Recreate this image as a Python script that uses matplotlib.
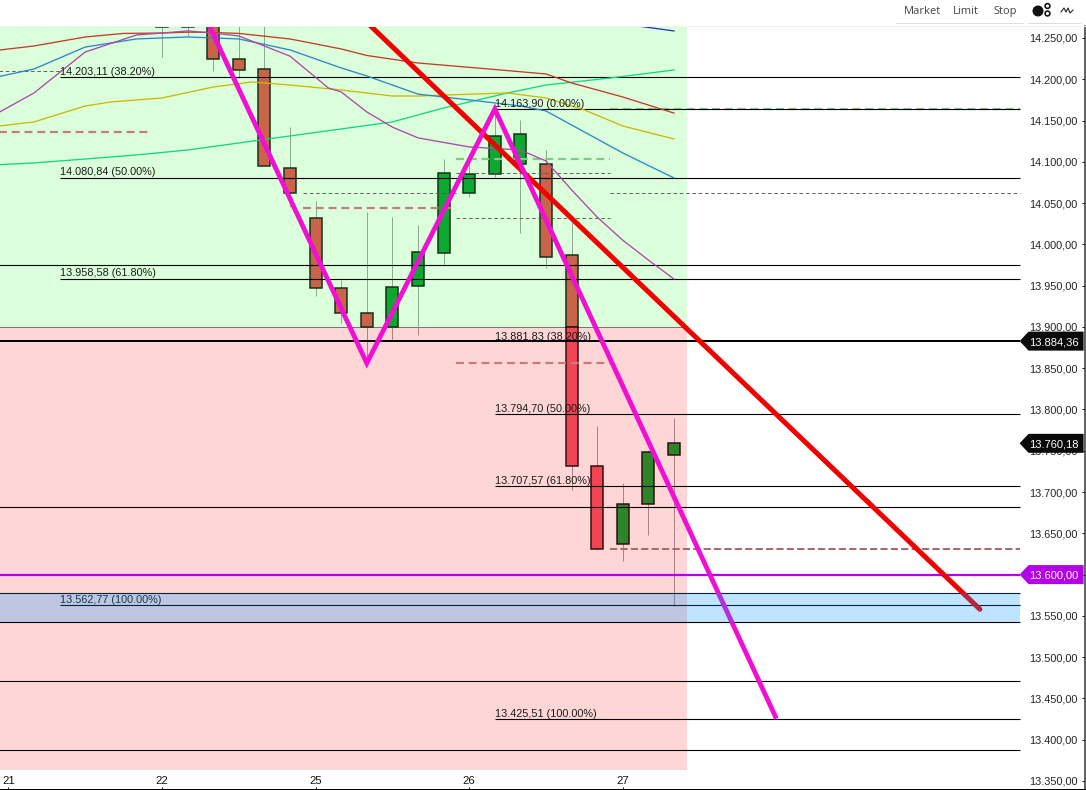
import matplotlib
matplotlib.use("Agg")
import matplotlib.pyplot as plt
from matplotlib.patches import Rectangle, Polygon, Circle
from matplotlib.lines import Line2D
from matplotlib.transforms import IdentityTransform

plt.rcParams['font.family'] = ['Liberation Sans', 'DejaVu Sans']

# ---- candles (bar index, open, high, low, close) ----
bars   = list(range(0, 21))
opens  = [14290, 14290, 14285, 14225, 14212, 14093, 14032, 13947, 13917, 13900, 13950, 13989, 14062, 14085, 14097, 14097, 13987, 13732, 13637, 13686, 13745]
closes = [14263, 14263, 14225, 14211, 14095, 14062, 13947, 13917, 13900, 13948, 13991, 14086, 14085, 14131, 14134, 13985, 13732, 13631, 13686, 13748, 13759]
highs  = [14300, 14300, 14290, 14270, 14266, 14142, 14052, 13957, 14039, 14033, 14023, 14103, 14103, 14163, 14151, 14114, 14027, 13780, 13711, 13751, 13790]
lows   = [14227, 14252, 14210, 14201, 14095, 14045, 13937, 13905, 13856, 13883, 13890, 13975, 14057, 14082, 14014, 13971, 13702, 13630, 13616, 13648, 13562]
zone_edge = 13900.0

# ---- moving averages ----
ma_red_x = [-7, -5, -3, -1.5, 0, 1, 2, 3, 5, 7, 8, 10, 13, 15, 16, 18, 20]
ma_red_y = [14233, 14240.3, 14251.2, 14255.5, 14256, 14257, 14256.7, 14255.5, 14248.8, 14236.7, 14228.8, 14219.7, 14211.8, 14206.4, 14195.5, 14178.5, 14159]
ma_blue_x = [-7, -5, -3, -1, 1, 3, 5, 7, 8, 10, 12, 14, 15, 16, 18, 20]
ma_blue_y = [14199, 14212.4, 14239, 14248.8, 14251.2, 14248.8, 14235.5, 14213.7, 14204, 14182, 14175, 14167.6, 14161.6, 14144.6, 14110.7, 14080.4]
ma_purple_x = [-7, -5, -3, -1, 0, 1, 2, 3, 5, 6.5, 7, 8, 9, 10, 12, 14, 15, 16, 17, 18, 19, 20]
ma_purple_y = [14149, 14183.4, 14233, 14253.6, 14256, 14258.5, 14256, 14252.4, 14228, 14189.4, 14184.6, 14160.4, 14142, 14129, 14118, 14114.3, 14101, 14066, 14033, 14005, 13981, 13958]
ma_yellow_x = [-7, -5, -3, -2, 0, 2, 3.5, 5, 7, 9, 10, 13.5, 15, 16.5, 18, 20]
ma_yellow_y = [14141, 14148.3, 14167.6, 14172.5, 14177.3, 14190.6, 14196.7, 14193, 14187, 14179.7, 14179.7, 14183.4, 14177.3, 14162.8, 14143.4, 14127.7]
ma_teal_x = [-7, -5, -3, -1, 1, 3, 7, 9, 11, 13.5, 15, 17.5, 20]
ma_teal_y = [14095.6, 14098.6, 14103.4, 14108.3, 14114.3, 14122.8, 14139.8, 14148.3, 14165.2, 14183.4, 14193, 14201.5, 14211.2]
ma_navy_x = [18, 20]
ma_navy_y = [14267, 14258.5]

# ---- drawing tools ----
zigzag_x = [1, 8, 13, 24]
zigzag_y = [14321, 13856, 14163.9, 13425.51]
trend_x = [8, 31.95]
trend_y = [14269, 13558]

fib_left_x = -4
fib_left_levels = [14203.11, 14080.84, 13958.58, 13562.77]
fib_left_labels = ["14.203,11 (38.20%)", "14.080,84 (50.00%)", "13.958,58 (61.80%)", "13.562,77 (100.00%)"]
fib_mid_x = 13
fib_mid_levels = [14163.90, 13794.70, 13707.57, 13425.51]
fib_mid_labels = ["14.163,90 (0.00%)", "13.794,70 (50.00%)", "13.707,57 (61.80%)", "13.425,51 (100.00%)"]
fib_mid_38 = 13881.83
fib_mid_38_label = "13.881,83 (38.20%)"
full_levels = [13975, 13682, 13471, 13387.5, 13578, 13543]
last_level = 13882.8
target_level = 13600.0
close_level = 13759.0

dash_red = [(-7, -0.5, 14136), (5.5, 11.5, 14044), (11.5, 17.5, 13856)]
dash_dark = [(17.5, 33.5, 13631)]
dash_thin = [(-7, -4, 14210), (5.5, 11.5, 14062), (17.5, 33.5, 14062), (11.5, 17.5, 14086), (11.5, 17.5, 14032)]
dash_green = [(11.5, 17.5, 14103), (17.5, 33.5, 14163.9)]

y_ticks = [14250, 14200, 14150, 14100, 14050, 14000, 13950, 13900, 13850, 13800, 13750, 13700, 13650, 13600, 13550, 13500, 13450, 13400, 13350]
y_labels = ["14.250,00", "14.200,00", "14.150,00", "14.100,00", "14.050,00", "14.000,00", "13.950,00", "13.900,00", "13.850,00", "13.800,00", "13.750,00", "13.700,00", "13.650,00", "13.600,00", "13.550,00", "13.500,00", "13.450,00", "13.400,00", "13.350,00"]
day_ticks = [-6, 0, 6, 12, 18]
day_labels = ["21", "22", "25", "26", "27"]
tag_levels = [(last_level, "13.884,36", "#0a0a0a"), (close_level, "13.760,18", "#0a0a0a"), (target_level, "13.600,00", "#b400e6")]

px = 1 / 100 * 72  # points per pixel at dpi 100
fig = plt.figure(figsize=(10.86, 7.90), dpi=100, facecolor="white")
ax = fig.add_axes([0, 1 / 790, 1085 / 1086, 763 / 790])
ax.set_xlim(-162 / 25.6, (1085 - 162) / 25.6)
ax.set_ylim(13340.3, 14264.5)
ax.set_facecolor("white")

RIGHT = 33.5
ZONE_R = 20.5
XL = -7
YB = 13363.3

# zones
ax.add_patch(Rectangle((XL, zone_edge), ZONE_R - XL, 14400 - zone_edge, fc="#DAFFDA", ec="none", zorder=0))
ax.add_patch(Rectangle((XL, YB), ZONE_R - XL, zone_edge - YB, fc="#FFD6D6", ec="none", zorder=0))
ax.hlines(zone_edge, XL, ZONE_R, color="#807070", lw=1 * px, zorder=1)

# candles
BW = 0.47
C = {("d", 1): "#C9634A", ("d", 0): "#F24452", ("u", 1): "#0DA82F", ("u", 0): "#2E8429"}
for i, o, h, l, c in zip(bars, opens, highs, lows, closes):
    if h > zone_edge:
        ax.vlines(i, max(l, zone_edge), h, color="#8FA88F", lw=1 * px, zorder=1.5)
    if l < zone_edge:
        ax.vlines(i, l, min(h, zone_edge), color="#B08088", lw=1 * px, zorder=1.5)
    lo, hi = min(o, c), max(o, c)
    k = "u" if c > o else "d"
    if hi > zone_edge:
        b = max(lo, zone_edge)
        ax.add_patch(Rectangle((i - BW / 2, b), BW, hi - b, fc=C[(k, 1)], ec="#10301a", lw=1.5 * px, zorder=1.6))
    if lo < zone_edge:
        t = min(hi, zone_edge)
        ax.add_patch(Rectangle((i - BW / 2, lo), BW, t - lo, fc=C[(k, 0)], ec="#2a1010", lw=1.5 * px, zorder=1.6))

# horizontal levels
for lv in fib_left_levels:
    ax.hlines(lv, fib_left_x, RIGHT, color="black", lw=1.1 * px, zorder=2)
for lv in fib_mid_levels:
    ax.hlines(lv, fib_mid_x, RIGHT, color="black", lw=1.1 * px, zorder=2)
for lv in full_levels:
    ax.hlines(lv, XL, RIGHT, color="black", lw=1.1 * px, zorder=2)
ax.hlines(last_level, XL, RIGHT, color="black", lw=2 * px, zorder=2)

for a, b, lv in dash_red:
    ax.plot([a, b], [lv, lv], color="#C77C7C", lw=2.2 * px, dashes=(3.6, 2.2), zorder=2)
for a, b, lv in dash_dark:
    ax.plot([a, b], [lv, lv], color="#A86A6A", lw=2.0 * px, dashes=(3.6, 1.6), zorder=2)
for a, b, lv in dash_thin:
    ax.plot([a, b], [lv, lv], color="#555555", lw=0.9 * px, dashes=(4, 3), zorder=2)
for a, b, lv in dash_green:
    ax.plot([a, b], [lv, lv], color="#86C886", lw=2.2 * px, dashes=(3.6, 2.2), zorder=1.9)

# moving averages
for xs, ys, col in [(ma_teal_x, ma_teal_y, "#12D585"), (ma_yellow_x, ma_yellow_y, "#CDB700"),
                    (ma_red_x, ma_red_y, "#C23B2A"), (ma_blue_x, ma_blue_y, "#2A86C8"),
                    (ma_purple_x, ma_purple_y, "#B045A8"), (ma_navy_x, ma_navy_y, "#2233C8")]:
    ax.plot(xs, ys, color=col, lw=1.3 * px, zorder=2.2)

# labels
for x0, lv, s in ([(fib_left_x, a, b) for a, b in zip(fib_left_levels, fib_left_labels)]
                  + [(fib_mid_x, a, b) for a, b in zip(fib_mid_levels, fib_mid_labels)]
                  + [(fib_mid_x, fib_mid_38, fib_mid_38_label)]):
    ax.annotate(s, (x0, lv), xytext=(0, 0.1), textcoords="offset points", fontsize=7.8, color="#1a1a1a", va="bottom", ha="left", zorder=3)

# target line, trend line and zigzag
ax.hlines(target_level, XL, RIGHT, color="#B400E6", lw=2.2 * px, zorder=3.1)
ax.plot(trend_x, trend_y, color="#F20000", lw=5 * px, solid_capstyle="round", zorder=3.2)
ax.plot(zigzag_x, zigzag_y, color="#F00FD2", lw=4.8 * px, solid_joinstyle="miter", solid_capstyle="butt", zorder=3.3)

# blue band on top of everything
ax.add_patch(Rectangle((XL, 13543), RIGHT - XL, 13578 - 13543, fc="#0097FF", alpha=0.25, ec="none", zorder=4))

# axes
for s in ("top", "left"):
    ax.spines[s].set_visible(False)
ax.spines["right"].set_color("#333333")
ax.spines["right"].set_linewidth(1.5 * px)
ax.spines["bottom"].set_color("black")
ax.spines["bottom"].set_linewidth(1.0 * px)
ax.yaxis.tick_right()
ax.set_yticks(y_ticks)
ax.set_yticklabels(y_labels)
ax.tick_params(axis="y", direction="in", length=3 * px, width=1 * px, pad=-7.5 * px, labelsize=7.8, colors="#222222")
for t in ax.get_yticklabels():
    t.set_ha("right")
ax.set_xticks(day_ticks)
ax.set_xticklabels(day_labels)
ax.tick_params(axis="x", direction="in", length=2.5 * px, width=1 * px, pad=-13.5 * px, labelsize=8.2, colors="#111111")

# price tags
for lv, s, col in tag_levels:
    h = 11.5
    ax.add_patch(Polygon([(33.5, lv), (33.85, lv + h), (36.0, lv + h), (36.0, lv - h), (33.85, lv - h)],
                         closed=True, fc=col, ec="none", zorder=6))
    ax.text(35.79, lv, s, color="white", fontsize=8.0, fontweight="normal", va="center_baseline", ha="right", zorder=7)

# toolbar
for x, s in [(904, "Market"), (953, "Limit"), (993, "Stop")]:
    fig.text(x / 1086, 1 - 11.5 / 790, s, fontsize=8, color="#444444", family=["Open Sans", "DejaVu Sans"], va="center", ha="left")
T = IdentityTransform()
for x0, x1 in [(896, 1023), (1028, 1080)]:
    fig.add_artist(Line2D([x0, x1], [790 - 22.5, 790 - 22.5], color="#DDDDDD", lw=1 * px, transform=T))
fig.add_artist(Line2D([0, 1086], [790 - 26, 790 - 26], color="#F0F0F0", lw=1 * px, transform=T))
fig.add_artist(Circle((1038, 790 - 11), 5.5, fc="#111111", ec="none", transform=T))
fig.add_artist(Circle((1047.5, 790 - 6), 2.4, fc="white", ec="#111111", lw=1.6 * px, transform=T))
fig.add_artist(Circle((1047.5, 790 - 13.5), 2.4, fc="white", ec="#111111", lw=1.6 * px, transform=T))
icon_x = [1061, 1064, 1066, 1068, 1070, 1073]
icon_y = [12, 8, 12, 8, 13, 10]
fig.add_artist(Line2D(icon_x, [790 - v for v in icon_y], color="#222222", lw=1.1 * px, transform=T))

fig.savefig("out.png", dpi=100)
